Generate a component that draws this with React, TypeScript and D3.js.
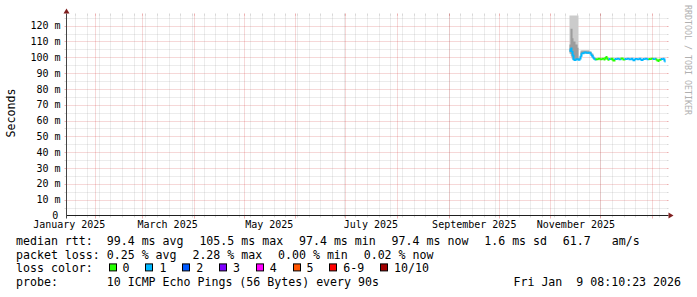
import React from 'react';
import * as d3 from 'd3';

const W = 697;
const H = 297;
const FONT = '"DejaVu Sans Mono", monospace';

const startTime = new Date(2025, 0, 14, 8, 10, 23);
const endTime = new Date(2026, 0, 9, 8, 10, 23);
const yMaxMs = 126.4;

// median rtt (ms) and packet loss (pings lost of 10) per consolidated step
const medianDates = [
  '2025-11-12T03:00', '2025-11-12T18:00', '2025-11-13T08:00', '2025-11-13T23:00', '2025-11-14T13:00',
  '2025-11-15T18:00', '2025-11-16T23:00', '2025-11-18T03:00', '2025-11-18T18:00', '2025-11-19T08:00',
  '2025-11-20T13:00', '2025-11-21T18:00', '2025-11-22T23:00', '2025-11-24T03:00', '2025-11-24T18:00',
  '2025-11-25T08:00', '2025-11-25T23:00', '2025-11-26T13:00', '2025-11-27T03:00', '2025-11-27T18:00',
  '2025-11-28T23:00', '2025-11-30T03:00', '2025-12-01T08:00', '2025-12-02T13:00', '2025-12-03T03:00',
  '2025-12-03T18:00', '2025-12-04T08:00', '2025-12-04T23:00', '2025-12-05T13:00', '2025-12-06T18:00',
  '2025-12-07T23:00', '2025-12-09T03:00', '2025-12-10T08:00', '2025-12-11T13:00', '2025-12-12T18:00',
  '2025-12-13T23:00', '2025-12-15T03:00', '2025-12-16T08:00', '2025-12-17T13:00', '2025-12-18T18:00',
  '2025-12-19T23:00', '2025-12-21T03:00', '2025-12-22T08:00', '2025-12-23T13:00', '2025-12-24T18:00',
  '2025-12-25T23:00', '2025-12-27T03:00', '2025-12-28T08:00', '2025-12-29T13:00', '2025-12-30T18:00',
  '2025-12-31T23:00', '2026-01-02T03:00', '2026-01-02T18:00', '2026-01-03T08:00', '2026-01-03T23:00',
  '2026-01-04T13:00', '2026-01-05T18:00', '2026-01-06T23:00', '2026-01-07T13:00', '2026-01-08T03:00',
  '2026-01-08T18:00',
];
const medianValues = [
  104.2, 105.5, 103.4, 101.0, 98.3,
  98.8, 98.5, 99.2, 101.0, 102.6,
  103.0, 102.8, 102.9, 102.6, 101.8,
  100.8, 99.8, 99.0, 98.6, 98.8,
  99.0, 98.7, 99.1, 98.6, 99.3,
  100.1, 99.2, 98.4, 98.9, 99.0,
  98.0, 98.9, 99.0, 98.8, 99.2,
  98.6, 98.9, 99.0, 98.8, 99.0,
  98.1, 98.9, 98.8, 99.0, 98.2,
  98.9, 99.0, 98.8, 98.9, 99.1,
  98.9, 99.0, 98.6, 98.0, 97.6,
  98.5, 98.9, 99.0, 98.6, 97.4,
  97.4,
];
const medianLoss = [
  1, 1, 1, 1, 1,
  1, 1, 1, 1, 1,
  1, 1, 1, 1, 1,
  1, 1, 1, 1, 0,
  0, 0, 0, 0, 0,
  0, 0, 0, 1, 0,
  0, 1, 1, 1, 0,
  0, 1, 1, 1, 1,
  1, 1, 1, 1, 1,
  1, 1, 1, 0, 0,
  1, 1, 0, 0, 0,
  0, 1, 1, 1, 1,
  1,
];

// smoke (spread of the individual pings), ms
const smokeDates = [
  '2025-11-12T03:00', '2025-11-12T18:00', '2025-11-13T08:00', '2025-11-13T23:00', '2025-11-14T13:00',
  '2025-11-15T18:00', '2025-11-16T23:00', '2025-11-17T13:00', '2025-11-18T18:00', '2025-11-19T08:00',
  '2025-11-20T13:00', '2025-11-24T03:00', '2025-11-25T08:00', '2025-11-26T13:00', '2025-11-27T18:00',
];
const smokeMax = [130, 130, 130, 130, 130, 130, 130, 99.4, 104.4, 104.6, 104.6, 104.0, 102.4, 100.0, 99.0];
const smokeUpper = [108, 118, 118, 112, 110, 108, 106, 99.2, 103.6, 103.8, 103.8, 103.4, 101.8, 99.5, 99.0];
const smokeLower = [103, 102, 100, 99, 98.8, 98.7, 98.5, 98.9, 101.0, 102.2, 102.5, 102.2, 100.5, 98.8, 99.0];
const smokeMin = [102, 101, 99, 98, 98.2, 98.3, 98.1, 98.7, 100.0, 102.0, 102.2, 102.0, 100.0, 98.5, 99.0];

const yMajorTicks = [0, 10, 20, 30, 40, 50, 60, 70, 80, 90, 100, 110, 120];
const yMajorLabels = ['0', '10 m', '20 m', '30 m', '40 m', '50 m', '60 m', '70 m', '80 m', '90 m', '100 m', '110 m', '120 m'];
const yMinorTicks = [5, 15, 25, 35, 45, 55, 65, 75, 85, 95, 105, 115, 125];

const lossLabels = ['0', '1', '2', '3', '4', '5', '6-9', '10/10'];
const lossColors = ['#26ff00', '#00b8ff', '#0059ff', '#7e00ff', '#ff00ff', '#ff5500', '#ff0000', '#a10000'];

const legendRow1 = ['median rtt:  99.4 ms avg', '105.5 ms max', '97.4 ms min', '97.4 ms now', '1.6 ms sd', '61.7   am/s'];
const legendRow2 = ['packet loss: 0.25 % avg', '2.28 % max', '0.00 % min', '0.02 % now'];
const lossTitle = 'loss color:';
const probeText = 'probe:       10 ICMP Echo Pings (56 Bytes) every 90s';
const stampText = 'Fri Jan  9 08:10:23 2026';
const yTitle = 'Seconds';
const watermark = 'RRDTOOL / TOBI OETIKER';

const GRID = 'rgba(140,140,140,0.34)';
const MGRID = 'rgba(205,40,40,0.36)';

export default function App() {
  const X0 = 66.5, X1 = 666.5, Y0 = 215.5, Y1 = 15.5;
  const x = d3.scaleTime().domain([startTime, endTime]).range([X0, X1]);
  const y = d3.scaleLinear().domain([0, yMaxMs]).range([Y0, Y1]).clamp(true);

  const weeks = d3.timeMonday.range(startTime, endTime);
  const months = d3.timeMonth.range(startTime, endTime);
  const labelMonths = d3.timeMonth.every(2)!
    .range(d3.timeMonth.floor(startTime), endTime)
    .map((m) => ({ m, at: d3.timeDay.offset(m, 15) }))
    .filter((d) => d.at >= startTime && d.at <= endTime);
  const fmtMonth = d3.timeFormat('%B %Y');

  const med = medianDates.map((d, i) => ({ t: new Date(d), v: medianValues[i], l: medianLoss[i] }));
  const smoke = smokeDates.map((d, i) => ({
    t: new Date(d), max: smokeMax[i], up: smokeUpper[i], lo: smokeLower[i], min: smokeMin[i],
  }));

  const outer = d3.area<any>().curve(d3.curveStepAfter)
    .x((d) => x(d.t)).y0((d) => y(d.min)).y1((d) => y(d.max));
  const inner = d3.area<any>().curve(d3.curveStepAfter)
    .x((d) => x(d.t)).y0((d) => y(d.lo)).y1((d) => y(d.up));
  const seg = d3.line<any>().curve(d3.curveStepAfter).x((d) => x(d.t)).y((d) => y(d.v));

  const charW = 11.6 * 0.602;
  const gap = 15.8;
  const lx = 16;
  const rowY = [244.8, 258.5, 272.2, 285.9];

  const placeRow = (items: string[]) => {
    let cx = lx;
    return items.map((s) => {
      const pos = cx;
      cx += s.length * charW + gap;
      return { s, pos };
    });
  };
  const row1 = placeRow(legendRow1);
  const row2 = placeRow(legendRow2);
  const lossItems: { box: number; text: number; label: string; color: string }[] = [];
  {
    let cx = lx + lossTitle.length * charW + gap;
    lossLabels.forEach((lab, i) => {
      lossItems.push({ box: cx, text: cx + 14, label: lab, color: lossColors[i] });
      cx += 14 + lab.length * charW + gap;
    });
  }

  const pre: React.CSSProperties = { whiteSpace: 'pre' };

  return (
    <svg width={W} height={H} viewBox={`0 0 ${W} ${H}`}
      style={{ position: 'absolute', left: 0, top: 0, background: '#fff' }}
      fontFamily={FONT}>
      <rect x={0} y={0} width={W} height={H} fill="#fff" />

      {/* horizontal grid */}
      {yMinorTicks.map((v) => (
        <g key={'hm' + v}>
          <line x1={X0} x2={X1} y1={Math.round(y(v)) + 0.5} y2={Math.round(y(v)) + 0.5} stroke={GRID} strokeDasharray="1,1" />
          <line x1={X0 - 2} x2={X0} y1={Math.round(y(v)) + 0.5} y2={Math.round(y(v)) + 0.5} stroke={GRID} />
          <line x1={X1} x2={X1 + 2} y1={Math.round(y(v)) + 0.5} y2={Math.round(y(v)) + 0.5} stroke={GRID} />
        </g>
      ))}
      {yMajorTicks.filter((v) => v > 0).map((v) => (
        <g key={'hM' + v}>
          <line x1={X0} x2={X1} y1={Math.round(y(v)) + 0.5} y2={Math.round(y(v)) + 0.5} stroke={MGRID} strokeDasharray="1,1" />
          <line x1={X0 - 2} x2={X0} y1={Math.round(y(v)) + 0.5} y2={Math.round(y(v)) + 0.5} stroke={MGRID} />
          <line x1={X1} x2={X1 + 2} y1={Math.round(y(v)) + 0.5} y2={Math.round(y(v)) + 0.5} stroke={MGRID} />
        </g>
      ))}

      {/* vertical grid */}
      {weeks.map((w) => {
        const px = Math.floor(x(w)) + 0.5;
        return (
          <g key={'vw' + +w}>
            <line x1={px} x2={px} y1={Y1} y2={Y0} stroke={GRID} strokeDasharray="1,1" />
            <line x1={px} x2={px} y1={Y1 - 2} y2={Y1} stroke={GRID} />
            <line x1={px} x2={px} y1={Y0} y2={Y0 + 2} stroke={GRID} />
          </g>
        );
      })}
      {months.map((m) => {
        const px = Math.floor(x(m)) + 0.5;
        return (
          <g key={'vm' + +m}>
            <line x1={px} x2={px} y1={Y1} y2={Y0} stroke={MGRID} strokeDasharray="1,1" />
            <line x1={px} x2={px} y1={Y1 - 2} y2={Y1} stroke={MGRID} />
            <line x1={px} x2={px} y1={Y0} y2={Y0 + 3} stroke={MGRID} />
          </g>
        );
      })}

      {/* smoke */}
      <path d={outer(smoke) || ''} fill="#cbcbcb" />
      <path d={inner(smoke) || ''} fill="#9c9c9c" />

      {/* median line coloured by loss */}
      {med.slice(0, -1).map((p, i) => (
        <path key={'m' + i} d={seg([p, med[i + 1]]) || ''} fill="none"
          stroke={lossColors[p.l]} strokeWidth={2} />
      ))}

      {/* axes */}
      <line x1={X0} x2={X1 + 2} y1={Y0} y2={Y0} stroke="#1f1f1f" />
      <line x1={X0} x2={X0} y1={Y0 + 3} y2={Y1 - 2} stroke="#444" />
      <polygon points={`${X1 + 7},${Y0} ${X1 + 2},${Y0 - 3} ${X1 + 2},${Y0 + 3}`} fill="#7f1f1f" />
      <polygon points={`${X0},${Y1 - 7} ${X0 - 3},${Y1 - 2} ${X0 + 3},${Y1 - 2}`} fill="#7f1f1f" />

      {/* y labels */}
      {yMajorTicks.map((v, i) => (
        <text key={'yl' + v} x={yMajorLabels[i].includes(' ') ? 60.5 : 58.3} y={y(v) + 3.6}
          textAnchor="end" fontSize={10} fill="#000" style={pre}>{yMajorLabels[i]}</text>
      ))}

      {/* x labels */}
      {labelMonths.map((d) => (
        <text key={'xl' + +d.m} x={x(d.at)} y={228} textAnchor="middle" fontSize={10} fill="#000">
          {fmtMonth(d.m)}
        </text>
      ))}

      {/* y title */}
      <text transform={`translate(15,113) rotate(-90)`} textAnchor="middle" fontSize={11.6} fill="#000">{yTitle}</text>

      {/* watermark */}
      <text transform={`translate(684.5,5) rotate(90)`} textAnchor="start" fontSize={8.3} fill="#b0b0b0" style={pre}>{watermark}</text>

      {/* legend */}
      {row1.map((d, i) => (
        <text key={'r1' + i} x={d.pos} y={rowY[0]} fontSize={11.6} fill="#000" style={pre}>{d.s}</text>
      ))}
      {row2.map((d, i) => (
        <text key={'r2' + i} x={d.pos} y={rowY[1]} fontSize={11.6} fill="#000" style={pre}>{d.s}</text>
      ))}
      <text x={lx} y={rowY[2]} fontSize={11.6} fill="#000" style={pre}>{lossTitle}</text>
      {lossItems.map((d, i) => (
        <g key={'lc' + i}>
          <rect x={Math.round(d.box) + 0.5} y={rowY[2] - 8.3} width={7} height={7} fill={d.color} stroke="#000" strokeWidth={1} />
          <text x={d.text} y={rowY[2]} fontSize={11.6} fill="#000" style={pre}>{d.label}</text>
        </g>
      ))}
      <text x={lx} y={rowY[3]} fontSize={11.6} fill="#000" style={pre}>{probeText}</text>
      <text x={681} y={rowY[3]} textAnchor="end" fontSize={11.6} fill="#000" style={pre}>{stampText}</text>
    </svg>
  );
}
